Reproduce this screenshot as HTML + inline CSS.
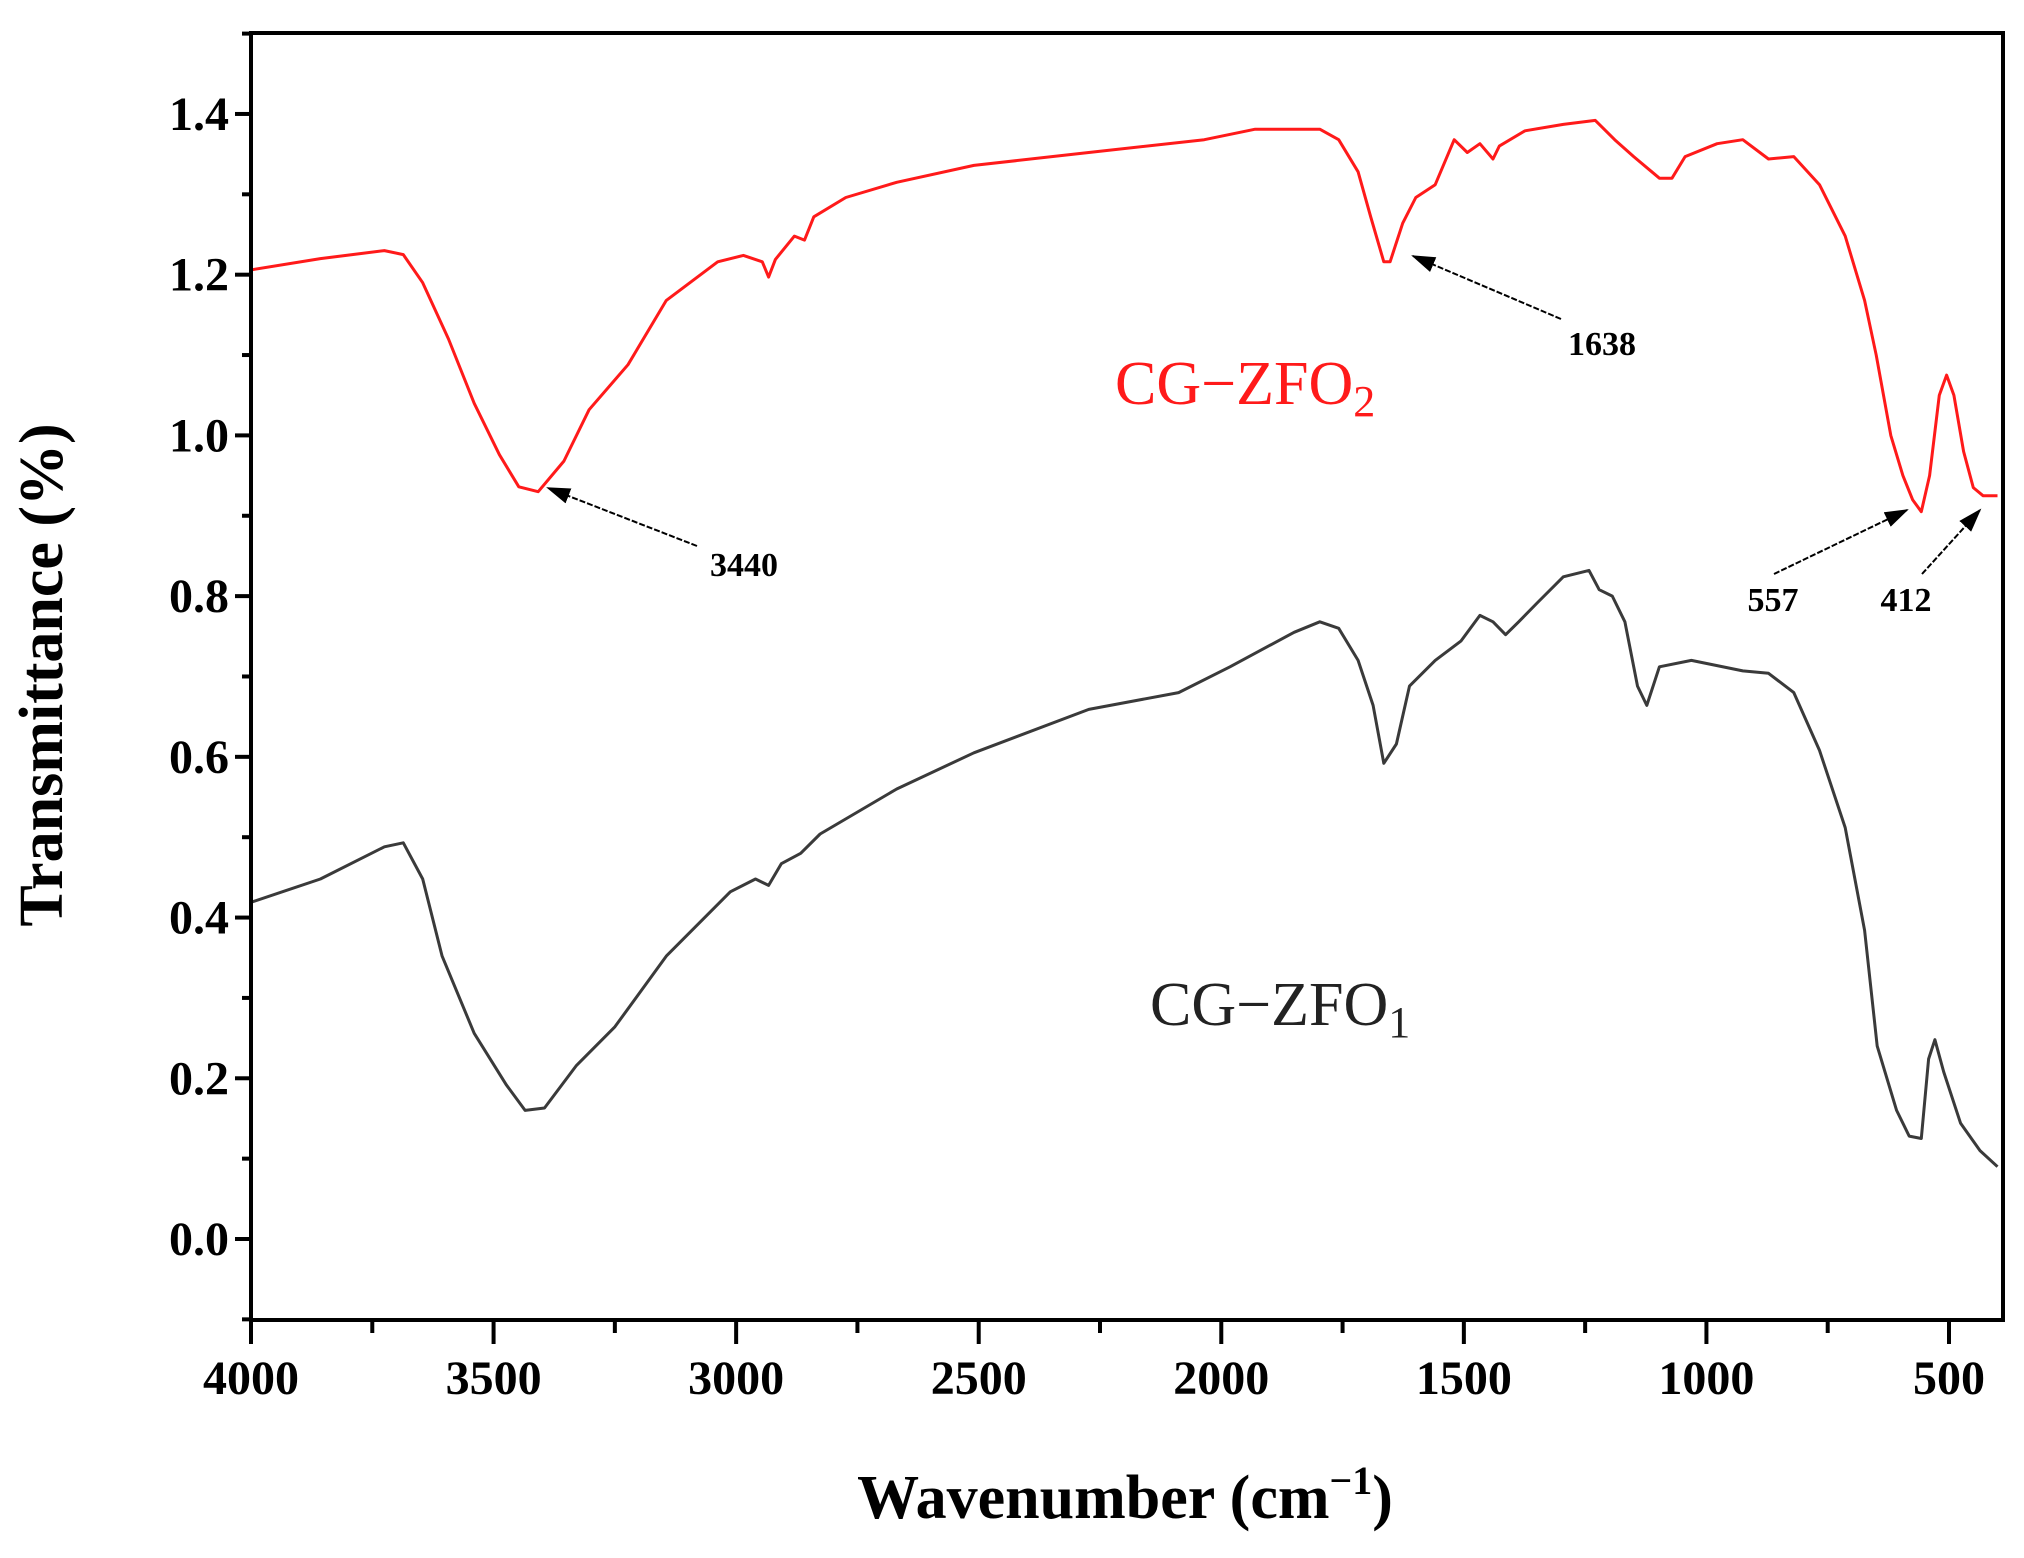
<!DOCTYPE html>
<html><head><meta charset="utf-8"><style>
html,body{margin:0;padding:0;background:#fff;}
svg text{font-family:"Liberation Serif",serif;}
</style></head><body>
<svg id="chart" width="2024" height="1553" viewBox="0 0 2024 1553" xmlns="http://www.w3.org/2000/svg">
<g id="plot"></g>
</svg>
<script>
const redW=[4000,3857,3725,3686,3646,3593,3540,3488,3448,3408,3355,3303,3223,3144,3038,2985,2946,2933,2919,2880,2859,2840,2774,2669,2510,2273,2035,1930,1797,1758,1718,1692,1665,1652,1626,1599,1559,1520,1493,1467,1440,1427,1374,1295,1229,1189,1150,1097,1071,1044,978,925,872,820,767,714,674,650,620,595,575,557,540,520,505,490,470,450,430,400];
const redV=[1.206,1.22,1.23,1.225,1.19,1.12,1.04,0.976,0.936,0.93,0.968,1.032,1.088,1.168,1.216,1.224,1.216,1.197,1.219,1.248,1.243,1.272,1.296,1.315,1.336,1.352,1.368,1.381,1.381,1.368,1.328,1.272,1.216,1.216,1.264,1.296,1.312,1.368,1.352,1.363,1.344,1.36,1.379,1.387,1.392,1.368,1.347,1.32,1.32,1.347,1.363,1.368,1.344,1.347,1.312,1.248,1.168,1.10,1.0,0.95,0.92,0.905,0.95,1.05,1.075,1.05,0.98,0.935,0.925,0.925];
const blkW=[4000,3857,3725,3686,3646,3606,3540,3474,3435,3395,3329,3250,3144,3012,2960,2933,2907,2867,2827,2669,2510,2273,2088,1982,1850,1797,1758,1718,1687,1665,1639,1612,1559,1506,1467,1440,1414,1387,1348,1295,1242,1221,1194,1168,1142,1123,1097,1031,925,872,820,767,714,674,648,608,582,557,542,529,511,476,436,400];
const blkV=[0.419,0.448,0.488,0.493,0.448,0.352,0.256,0.192,0.16,0.163,0.216,0.264,0.352,0.432,0.448,0.44,0.467,0.48,0.504,0.56,0.605,0.659,0.68,0.712,0.755,0.768,0.76,0.72,0.664,0.592,0.616,0.688,0.72,0.744,0.776,0.768,0.752,0.768,0.792,0.824,0.832,0.808,0.80,0.768,0.688,0.664,0.712,0.72,0.707,0.704,0.68,0.608,0.512,0.384,0.24,0.16,0.128,0.125,0.224,0.248,0.208,0.144,0.11,0.09];
const yTicks=[0.0,0.2,0.4,0.6,0.8,1.0,1.2,1.4];
const xTicks=[4000,3500,3000,2500,2000,1500,1000,500];

const L=251,R=2003,T=33,B=1320;
function X(w){return 251+(4000-w)*(1949-251)/3500;}
function Y(v){return 1239-v*803.6;}
const NS="http://www.w3.org/2000/svg";
const g=document.getElementById('plot');
function mk(tag,attrs,parent){const e=document.createElementNS(NS,tag);for(const k in attrs)e.setAttribute(k,attrs[k]);(parent||g).appendChild(e);return e;}

function series(W,V,color,name){
  let d='';W.forEach((w,i)=>{d+=(i?'L':'M')+X(w).toFixed(1)+','+Y(V[i]).toFixed(1);});
  const p=mk('path',{d:d,fill:'none',stroke:color,'stroke-width':3,'stroke-linejoin':'round'});
  
  
}
series(blkW,blkV,'#3a3a3a','cg-zfo1-line');
series(redW,redV,'#ff1a1a','cg-zfo2-line');

const fr=mk('rect',{x:L,y:T,width:R-L,height:B-T,fill:'none',stroke:'#000','stroke-width':4});



for(let v=-0.1;v<=1.5001;v+=0.1){
  const major=Math.abs(Math.round(v*10)%2)===0;
  mk('line',{x1:L,x2:L-(major?16:9),y1:Y(v),y2:Y(v),stroke:'#000','stroke-width':4});
}
yTicks.forEach(v=>{
  const t=mk('text',{x:229,y:Y(v)+16,'text-anchor':'end','font-size':48,'font-weight':'bold'});
  t.textContent=v.toFixed(1);
  
  
});
for(let w=4000;w>=390;w-=250){
  const major=w%500===0;
  mk('line',{x1:X(w),x2:X(w),y1:B,y2:B+(major?24:13),stroke:'#000','stroke-width':4});
}
xTicks.forEach(w=>{
  const t=mk('text',{x:X(w),y:1394,'text-anchor':'middle','font-size':48,'font-weight':'bold'});
  t.textContent=w;
  
  
});
</script>
<svg style="position:absolute;left:0;top:0" width="2024" height="1553" xmlns="http://www.w3.org/2000/svg">
<defs><marker id="ah" markerWidth="24" markerHeight="16" refX="22" refY="8" orient="auto" markerUnits="userSpaceOnUse" viewBox="0 0 24 16"><path d="M0,0 L24,8 L0,16 z" fill="#000"/></marker></defs>
<text x="0" y="0" transform="translate(62,675) rotate(-90)" text-anchor="middle" font-size="62" font-weight="bold" font-family="Liberation Serif, serif">Transmittance (%)</text>
<text x="1125" y="1518" text-anchor="middle" font-size="62" font-weight="bold" font-family="Liberation Serif, serif">Wavenumber (cm<tspan dy="-24" font-size="40">−1</tspan><tspan dy="24">)</tspan></text>
<text x="1115" y="404" font-size="62" fill="#ff1a1a" font-family="Liberation Serif, serif">CG−ZFO<tspan dy="12" font-size="44">2</tspan></text>
<text x="1150" y="1025" font-size="62" fill="#222" font-family="Liberation Serif, serif">CG−ZFO<tspan dy="12" font-size="44">1</tspan></text>
<g stroke="#000" stroke-width="2" stroke-dasharray="6,2" marker-end="url(#ah)">
<line x1="697" y1="546" x2="548" y2="488"/>
<line x1="1561" y1="319" x2="1413" y2="256"/>
<line x1="1774" y1="574" x2="1907" y2="510"/>
<line x1="1922" y1="574" x2="1980" y2="510"/>
</g>
<g font-family="Liberation Serif, serif" font-size="34" font-weight="bold" text-anchor="middle">
<text x="744" y="576">3440</text>
<text x="1602" y="355">1638</text>
<text x="1773" y="611">557</text>
<text x="1906" y="611">412</text>
</g>
</svg>
</body></html>
